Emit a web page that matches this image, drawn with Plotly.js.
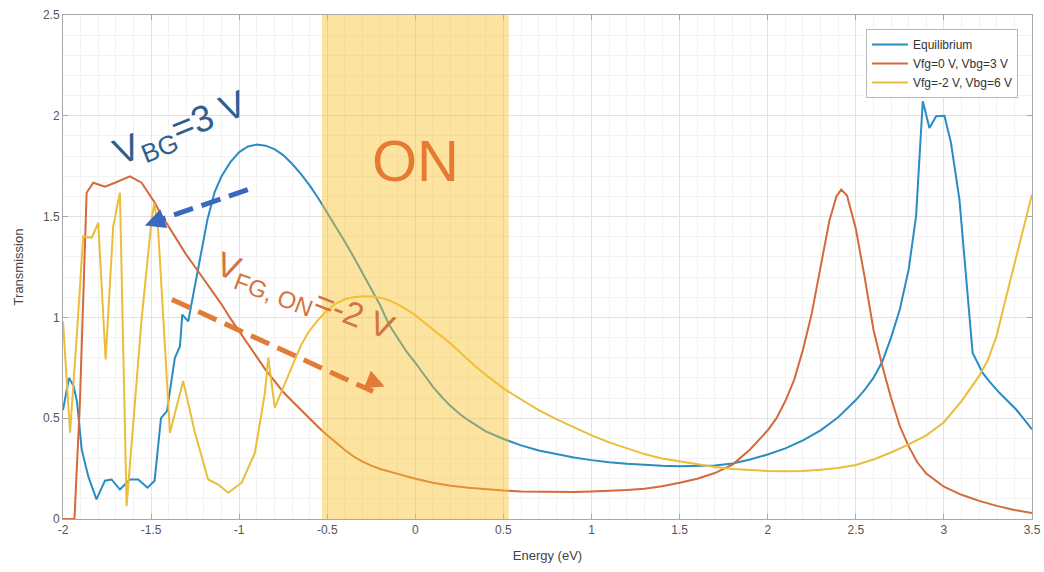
<!DOCTYPE html>
<html>
<head>
<meta charset="utf-8">
<script src="https://cdn.plot.ly/plotly-3.0.1.min.js"></script>
<style>html,body{margin:0;padding:0;background:#fff;}#chart{width:1044px;height:572px;}</style>
</head>
<body>
<div id="chart"></div>
<script>
// ---- Data ----
const seriesNames = ["Equilibrium", "Vfg=0 V, Vbg=3 V", "Vfg=-2 V, Vbg=6 V"];

const eqX = [-2.0, -1.966, -1.94, -1.92, -1.894, -1.856, -1.81, -1.762, -1.724, -1.677, -1.62, -1.573, -1.52, -1.48, -1.444, -1.41, -1.365, -1.336, -1.323, -1.289, -1.27, -1.233, -1.18, -1.14, -1.10, -1.05, -1.0, -0.95, -0.90, -0.85, -0.80, -0.75, -0.70, -0.65, -0.60, -0.55, -0.50, -0.45, -0.40, -0.35, -0.30, -0.25, -0.20, -0.15, -0.10, -0.05, 0.0, 0.05, 0.10, 0.15, 0.20, 0.25, 0.30, 0.40, 0.50, 0.60, 0.70, 0.80, 0.90, 1.0, 1.1, 1.2, 1.3, 1.4, 1.5, 1.6, 1.7, 1.8, 1.9, 2.0, 2.1, 2.2, 2.3, 2.4, 2.5, 2.55, 2.6, 2.65, 2.7, 2.75, 2.8, 2.842, 2.861, 2.88, 2.918, 2.956, 3.003, 3.04, 3.088, 3.126, 3.163, 3.22, 3.26, 3.315, 3.36, 3.41, 3.45, 3.5];
const eqY = [0.54, 0.70, 0.66, 0.58, 0.345, 0.21, 0.097, 0.19, 0.196, 0.146, 0.196, 0.196, 0.155, 0.19, 0.50, 0.535, 0.80, 0.857, 1.014, 0.98, 1.07, 1.238, 1.486, 1.62, 1.70, 1.77, 1.82, 1.848, 1.857, 1.852, 1.835, 1.805, 1.762, 1.712, 1.655, 1.59, 1.52, 1.45, 1.375, 1.30, 1.22, 1.14, 1.06, 0.965, 0.895, 0.83, 0.775, 0.715, 0.655, 0.605, 0.56, 0.522, 0.49, 0.435, 0.397, 0.365, 0.34, 0.322, 0.305, 0.292, 0.281, 0.274, 0.268, 0.264, 0.262, 0.262, 0.265, 0.275, 0.295, 0.32, 0.35, 0.39, 0.44, 0.505, 0.59, 0.64, 0.70, 0.78, 0.90, 1.04, 1.238, 1.502, 1.80, 2.072, 1.94, 1.998, 2.0, 1.866, 1.585, 1.22, 0.824, 0.725, 0.68, 0.626, 0.585, 0.543, 0.50, 0.444];

const fgX = [-2.0, -1.942, -1.935, -1.904, -1.885, -1.866, -1.828, -1.762, -1.705, -1.62, -1.554, -1.478, -1.45, -1.40, -1.35, -1.30, -1.25, -1.20, -1.15, -1.10, -1.05, -1.0, -0.95, -0.90, -0.85, -0.80, -0.75, -0.70, -0.65, -0.60, -0.55, -0.50, -0.45, -0.40, -0.35, -0.30, -0.25, -0.20, -0.10, 0.0, 0.1, 0.2, 0.3, 0.4, 0.5, 0.6, 0.7, 0.8, 0.9, 1.0, 1.1, 1.2, 1.3, 1.4, 1.5, 1.6, 1.7, 1.8, 1.9, 2.0, 2.05, 2.1, 2.15, 2.2, 2.25, 2.3, 2.35, 2.39, 2.417, 2.45, 2.5, 2.55, 2.6, 2.65, 2.7, 2.75, 2.8, 2.85, 2.9, 3.0, 3.1, 3.2, 3.3, 3.4, 3.5];
const fgY = [0.0, 0.0, 0.0, 0.578, 1.07, 1.618, 1.668, 1.648, 1.668, 1.70, 1.668, 1.568, 1.52, 1.45, 1.38, 1.31, 1.25, 1.19, 1.13, 1.065, 0.995, 0.93, 0.865, 0.80, 0.74, 0.685, 0.63, 0.585, 0.54, 0.495, 0.455, 0.415, 0.378, 0.342, 0.31, 0.285, 0.265, 0.248, 0.224, 0.20, 0.18, 0.165, 0.155, 0.147, 0.141, 0.137, 0.135, 0.133, 0.134, 0.137, 0.14, 0.144, 0.15, 0.163, 0.18, 0.20, 0.228, 0.27, 0.345, 0.44, 0.50, 0.585, 0.69, 0.84, 1.02, 1.26, 1.48, 1.60, 1.634, 1.605, 1.44, 1.20, 0.94, 0.76, 0.60, 0.46, 0.36, 0.28, 0.225, 0.16, 0.12, 0.09, 0.065, 0.045, 0.03];

const bgX = [-2.0, -1.96, -1.922, -1.885, -1.837, -1.80, -1.758, -1.715, -1.677, -1.639, -1.554, -1.497, -1.482, -1.46, -1.393, -1.318, -1.251, -1.176, -1.119, -1.062, -0.986, -0.911, -0.854, -0.835, -0.798, -0.722, -0.65, -0.609, -0.55, -0.50, -0.45, -0.40, -0.35, -0.30, -0.25, -0.20, -0.15, -0.10, -0.05, 0.0, 0.05, 0.10, 0.15, 0.2, 0.25, 0.3, 0.35, 0.4, 0.45, 0.5, 0.55, 0.6, 0.7, 0.8, 0.9, 1.0, 1.1, 1.2, 1.3, 1.4, 1.5, 1.6, 1.7, 1.8, 1.9, 2.0, 2.1, 2.2, 2.3, 2.4, 2.5, 2.6, 2.7, 2.8, 2.9, 3.0, 3.1, 3.2, 3.25, 3.3, 3.35, 3.4, 3.45, 3.5];
const bgY = [0.98, 0.428, 0.907, 1.403, 1.395, 1.469, 0.791, 1.452, 1.618, 0.064, 0.99, 1.486, 1.568, 1.436, 0.428, 0.684, 0.428, 0.196, 0.171, 0.13, 0.18, 0.328, 0.626, 0.80, 0.552, 0.708, 0.86, 0.924, 0.99, 1.035, 1.07, 1.09, 1.10, 1.105, 1.104, 1.098, 1.085, 1.065, 1.04, 1.01, 0.975, 0.94, 0.905, 0.87, 0.83, 0.79, 0.75, 0.715, 0.68, 0.648, 0.62, 0.592, 0.54, 0.495, 0.455, 0.415, 0.38, 0.35, 0.322, 0.30, 0.285, 0.27, 0.258, 0.248, 0.242, 0.238, 0.237, 0.238, 0.244, 0.253, 0.268, 0.295, 0.33, 0.37, 0.415, 0.48, 0.585, 0.71, 0.79, 0.91, 1.09, 1.26, 1.43, 1.61];

const xTickVals = [-2, -1.5, -1, -0.5, 0, 0.5, 1, 1.5, 2, 2.5, 3, 3.5];
const xTickText = ["-2", "-1.5", "-1", "-0.5", "0", "0.5", "1", "1.5", "2", "2.5", "3", "3.5"];
const yTickVals = [0, 0.5, 1, 1.5, 2, 2.5];
const yTickText = ["0", "0.5", "1", "1.5", "2", "2.5"];

// "ON" window in energy
const onWindow = [-0.53, 0.53];
// Arrow decorations: [tailX, tailY, tipX, tipY]
const blueArrow = [-0.951, 1.634, -1.47, 1.478];
const orangeArrow = [-1.382, 1.089, -0.24, 0.632];
const blueTip = [-1.535, 1.456];
const orangeTip = [-0.174, 0.657];

const colors = ["#2a8cc4", "#d4693a", "#ebbd3a"];
const FONT = "Liberation Sans, Arial, sans-serif";

const traces = [
  {x: eqX, y: eqY, name: seriesNames[0], mode: "lines", line: {color: colors[0], width: 2}},
  {x: fgX, y: fgY, name: seriesNames[1], mode: "lines", line: {color: colors[1], width: 2}},
  {x: bgX, y: bgY, name: seriesNames[2], mode: "lines", line: {color: colors[2], width: 2}}
];

const axisCommon = {
  showline: true, linecolor: "#a8a8a8", linewidth: 1, mirror: "ticks",
  ticks: "inside", ticklen: 5, tickcolor: "#a8a8a8",
  showgrid: true, gridcolor: "#e2e2e2", gridwidth: 1, zeroline: false,
  tickfont: {family: FONT, size: 12, color: "#555"}
};

const layout = {
  width: 1044, height: 572,
  margin: {l: 63, r: 12, t: 15, b: 53},
  paper_bgcolor: "#fff", plot_bgcolor: "#fff",
  hovermode: false,
  xaxis: Object.assign({}, axisCommon, {
    range: [-2, 3.5], tickmode: "array", tickvals: xTickVals, ticktext: xTickText,
    minor: {dtick: 0.1, showgrid: true, gridcolor: "#f2f2f2", ticks: ""},
    title: {text: "Energy (eV)", font: {family: FONT, size: 13, color: "#444"}, standoff: 14}
  }),
  yaxis: Object.assign({}, axisCommon, {
    range: [0, 2.5], tickmode: "array", tickvals: yTickVals, ticktext: yTickText,
    minor: {dtick: 0.1, showgrid: true, gridcolor: "#f2f2f2", ticks: ""},
    title: {text: "Transmission", font: {family: FONT, size: 13, color: "#444"}, standoff: 16}
  }),
  legend: {
    x: 0.9855, xanchor: "right", y: 0.972, yanchor: "top",
    bgcolor: "#fff", bordercolor: "#b8b8b8", borderwidth: 1,
    font: {family: FONT, size: 12, color: "#333"},
    tracegroupgap: 0, itemwidth: 36
  },
  shapes: [
    {type: "rect", xref: "x", yref: "paper", x0: onWindow[0], x1: onWindow[1], y0: 0, y1: 1,
     fillcolor: "rgba(249,196,44,0.45)", line: {width: 0}, layer: "above"},
    {type: "line", xref: "x", yref: "y", x0: blueArrow[0], y0: blueArrow[1], x1: blueArrow[2], y1: blueArrow[3],
     line: {color: "#3a68c0", width: 5, dash: "20px,9px"}, layer: "above"},
    {type: "line", xref: "x", yref: "y", x0: orangeArrow[0], y0: orangeArrow[1], x1: orangeArrow[2], y1: orangeArrow[3],
     line: {color: "#e27a38", width: 5, dash: "20px,9px"}, layer: "above"}
  ],
  annotations: [
    {x: 0, y: 1.78, xref: "x", yref: "y", text: "ON", showarrow: false,
     font: {family: FONT, size: 58, color: "#e67a32"}},
    {x: -1.33, y: 1.93, xref: "x", yref: "y", text: "V<sub>BG</sub>=3 V", showarrow: false, textangle: -22,
     font: {family: FONT, size: 37, color: "#2f5f8f"}},
    {x: -0.63, y: 1.10, xref: "x", yref: "y", text: "V<sub>FG, ON</sub>=-2 V", showarrow: false, textangle: 21,
     font: {family: FONT, size: 34, color: "#d2743f"}},
    {x: blueTip[0], y: blueTip[1], xref: "x", yref: "y", text: "", showarrow: true, ax: 11, ay: -4,
     arrowhead: 2, arrowsize: 0.8, arrowwidth: 5, arrowcolor: "#3a68c0", standoff: 0},
    {x: orangeTip[0], y: orangeTip[1], xref: "x", yref: "y", text: "", showarrow: true, ax: -11, ay: -4.5,
     arrowhead: 2, arrowsize: 0.75, arrowwidth: 5, arrowcolor: "#e27a38", standoff: 0}
  ]
};

Plotly.newPlot("chart", traces, layout, {displayModeBar: false, staticPlot: true});
</script>
</body>
</html>
